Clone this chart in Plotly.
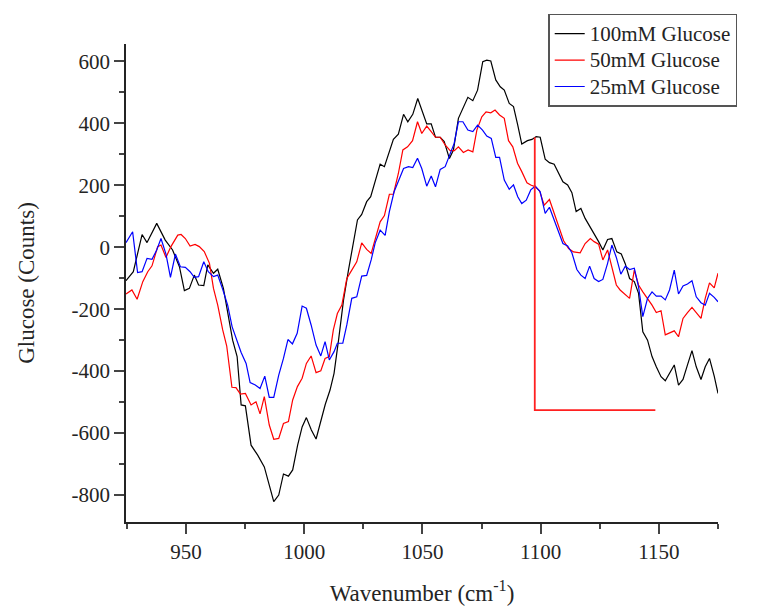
import plotly.graph_objects as go

x_100 = [924.6, 927.7, 931.4, 933.5, 937.6, 941.2, 944.3, 947.2, 949.3, 951.4, 953.5, 955.3, 957.5, 959.2,
         961.6, 963.4, 965.8, 968.3, 969.7, 971.6, 973.3, 975.1, 977.5, 980.3, 983.1, 985.2, 987.1, 989.2,
         991.2, 993.3, 995.1, 997.2, 999.1, 1000.9, 1003.0, 1005.0, 1007.0, 1008.9, 1010.9, 1012.6, 1014.5,
         1016.6, 1018.7, 1020.8, 1022.5, 1024.3, 1026.4, 1028.1, 1030.0, 1032.1, 1033.9, 1035.9, 1037.7,
         1039.8, 1042.0, 1043.8, 1045.9, 1048.0, 1050.0, 1051.8, 1053.7, 1055.5, 1057.5, 1059.2, 1061.4,
         1063.1, 1065.2, 1067.4, 1069.2, 1071.3, 1073.3, 1075.5, 1077.2, 1078.9, 1081.0, 1082.9, 1084.6,
         1086.7, 1088.5, 1090.3, 1092.0, 1094.4, 1096.3, 1098.1, 1099.8, 1101.9, 1103.7, 1105.7, 1107.6,
         1109.4, 1111.4, 1113.2, 1115.0, 1117.0, 1118.8, 1120.7, 1122.4, 1124.5, 1126.3, 1128.3, 1130.1,
         1132.2, 1134.1, 1135.8, 1137.6, 1139.6, 1141.4, 1143.2, 1145.2, 1147.1, 1148.9, 1150.9, 1152.7,
         1154.5, 1156.5, 1158.3, 1160.2, 1162.1, 1164.0, 1165.8, 1167.8, 1169.6, 1171.4, 1173.4, 1175.0]
y_100 = [-108, -79, 41, 15, 77, 23, -9, -63, -140, -133, -90, -122, -124, -57,
         -84, -71, -133, -246, -300, -353, -509, -512, -639, -671, -709, -768, -821, -800,
         -732, -739, -719, -639, -580, -550, -590, -619, -563, -507, -461, -407, -300,
         -171, -74, 23, 88, 106, 147, 163, 217, 268, 260, 303, 348,
         365, 429, 405, 429, 480, 437, 398, 398, 355, 355, 341, 286,
         314, 416, 453, 484, 473, 507, 599, 604, 601, 540, 518, 507,
         464, 454, 394, 333, 344, 348, 357, 355, 284, 273, 268, 238,
         211, 201, 176, 115, 125, 93, 68, 50, 18, -9, 25, 28,
         -15, -22, -54, -101, -111, -149, -273, -300, -353, -386, -418, -431,
         -407, -380, -445, -427, -380, -334, -386, -427, -386, -359, -416, -472]

x_50 = [924.6, 927.1, 929.3, 931.7, 933.8, 935.6, 938.0, 939.4, 941.5, 943.6, 946.5, 947.9, 949.7, 951.7,
        953.8, 955.6, 957.7, 959.9, 961.6, 963.4, 965.5, 967.2, 969.4, 971.1, 973.0, 975.1, 977.5, 979.6,
        981.3, 983.1, 985.2, 987.1, 989.2, 991.2, 993.3, 995.1, 997.1, 999.1, 1000.9, 1002.9, 1005.0,
        1007.0, 1008.8, 1010.6, 1012.3, 1014.0, 1015.9, 1018.0, 1020.1, 1022.2, 1024.3, 1026.4, 1028.3,
        1030.0, 1032.1, 1033.9, 1036.0, 1037.7, 1039.8, 1041.7, 1043.7, 1045.8, 1047.9, 1049.7, 1051.8,
        1053.7, 1055.5, 1057.5, 1059.6, 1061.7, 1063.5, 1065.2, 1067.3, 1069.3, 1071.3, 1073.0, 1075.1,
        1076.9, 1078.9, 1080.7, 1082.6, 1084.6, 1086.4, 1088.2, 1090.2, 1092.0, 1094.2, 1095.8, 1097.7,
        1099.5, 1101.5, 1103.7, 1105.7, 1107.6, 1109.7, 1111.8, 1113.9, 1116.7, 1118.8, 1121.0, 1122.6,
        1124.5, 1126.3, 1128.3, 1130.1, 1132.0, 1133.6, 1135.8, 1137.6, 1139.6, 1141.4, 1143.2, 1145.2,
        1147.1, 1148.9, 1150.9, 1152.7, 1154.5, 1156.5, 1158.3, 1160.2, 1162.1, 1164.0, 1165.8, 1167.8,
        1169.6, 1171.4, 1173.4, 1175.0]
y_50 = [-151, -138, -168, -111, -79, -60, 2, 7, -33, 2, 39, 41, 28, 4,
        9, 2, -14, -52, -133, -187, -267, -319, -452, -453, -474, -472, -509, -499,
        -538, -482, -574, -620, -617, -569, -563, -493, -450, -423, -375, -351, -405,
        -399, -359, -353, -267, -214, -187, -101, -74, -47, 14, -7, -20,
        25, 82, 102, 171, 171, 238, 314, 324, 344, 405, 367, 391,
        373, 355, 355, 330, 312, 312, 324, 306, 314, 308, 378, 421,
        437, 434, 443, 427, 416, 344, 324, 271, 244, 208, 201, 195,
        182, 136, 154, 109, 66, 21, -4, -15, -18, 12, 28, 18,
        10, -41, -9, -63, -122, -138, -154, -165, -74, -122, -144, -165,
        -187, -211, -205, -283, -276, -270, -289, -230, -211, -194, -211, -230,
        -165, -115, -131, -84]

x_25 = [924.6, 927.4, 929.5, 931.4, 933.5, 935.6, 937.6, 939.4, 941.5, 943.4, 945.5, 947.6, 949.7, 951.7,
        953.5, 955.3, 957.5, 959.4, 961.6, 963.4, 965.5, 967.6, 969.5, 971.6, 973.3, 975.4, 977.1, 979.3,
        981.3, 983.3, 985.2, 987.1, 989.2, 991.2, 993.1, 995.0, 997.0, 999.1, 1000.9, 1002.9, 1005.0,
        1007.0, 1008.8, 1010.6, 1012.6, 1014.0, 1016.3, 1018.0, 1020.1, 1022.2, 1024.3, 1026.4, 1028.3,
        1030.0, 1032.1, 1034.2, 1036.0, 1038.0, 1039.8, 1042.0, 1044.1, 1045.9, 1047.9, 1049.7, 1051.8,
        1053.7, 1055.5, 1057.5, 1059.6, 1061.4, 1063.4, 1065.2, 1067.1, 1069.2, 1071.3, 1073.3, 1075.4,
        1077.2, 1079.1, 1081.0, 1082.6, 1084.6, 1086.7, 1088.5, 1090.3, 1092.0, 1093.9, 1095.8, 1097.7,
        1099.8, 1101.9, 1103.7, 1105.7, 1107.6, 1109.4, 1111.4, 1113.2, 1115.3, 1117.0, 1118.8, 1120.7,
        1122.6, 1124.5, 1126.3, 1128.3, 1130.1, 1132.0, 1133.9, 1135.8, 1137.6, 1139.6, 1141.4, 1143.2,
        1145.2, 1147.1, 1148.9, 1150.9, 1152.7, 1154.5, 1156.5, 1158.3, 1160.2, 1162.1, 1164.0, 1165.8,
        1167.8, 1169.6, 1171.4, 1173.4, 1175.0]
y_25 = [15, 50, -82, -79, -36, -39, -9, 28, -22, -97, -22, -63, -65, -79,
        -97, -95, -47, -79, -95, -90, -136, -187, -257, -300, -340, -375, -437, -445,
        -456, -416, -485, -485, -413, -359, -298, -312, -278, -190, -197, -251, -316,
        -351, -305, -364, -337, -310, -310, -251, -165, -160, -93, -91, -41,
        14, 55, 38, 115, 179, 211, 254, 260, 257, 287, 254, 197,
        230, 195, 251, 260, 298, 335, 405, 405, 378, 373, 394, 378,
        359, 351, 290, 290, 217, 187, 201, 163, 141, 152, 185, 197,
        179, 109, 129, 90, 50, 12, 4, -18, -72, -90, -101, -61,
        -101, -111, -104, -52, 7, -33, -87, -61, -72, -68, -128, -224,
        -165, -144, -158, -158, -170, -138, -74, -151, -125, -119, -108, -160,
        -179, -187, -149, -162, -176]

marker_x = [1097.5, 1097.5, 1148.5]
marker_y = [355, -526, -526]

series_names = ["100mM Glucose", "50mM Glucose", "25mM Glucose"]
series_colors = ["#000000", "#ff0000", "#0000ff"]

y_label_alias = {"\u2212800": "-800", "\u2212600": "-600", "\u2212400": "-400", "\u2212200": "-200"}

FONT = "Liberation Serif"

fig = go.Figure()
for xs, ys, name, col in zip([x_100, x_50, x_25], [y_100, y_50, y_25], series_names, series_colors):
    fig.add_trace(go.Scatter(x=xs, y=ys, mode="lines",
                             name='<span style="font-size:21px">' + name + '</span>',
                             line=dict(color=col, width=1.2)))

fig.add_trace(go.Scatter(x=marker_x, y=marker_y, mode="lines", showlegend=False,
                         line=dict(color="#ff2020", width=1.8)))

fig.update_layout(
    template="simple_white",
    width=764, height=607,
    margin=dict(l=126, r=46, t=44, b=85, autoexpand=False),
    font=dict(family=FONT, size=21),
    xaxis=dict(range=[924.6, 1175], tickmode="linear", tick0=950, dtick=50,
               showline=True, linewidth=1.6, ticks="outside", ticklen=10, tickwidth=1.5,
               minor=dict(tick0=925, dtick=50, ticklen=5, tickwidth=1.5, ticks="outside"),
               tickfont=dict(family=FONT, size=21),
               title=dict(text="Wavenumber (cm<sup>-1</sup>)", font=dict(family=FONT, size=23),
                          standoff=22)),
    yaxis=dict(range=[-887, 656], tickmode="linear", tick0=0, dtick=200, labelalias=y_label_alias,
               showline=True, linewidth=1.6, ticks="outside", ticklen=10, tickwidth=1.5,
               minor=dict(tick0=100, dtick=200, ticklen=5, tickwidth=1.5, ticks="outside"),
               tickfont=dict(family=FONT, size=21),
               title=dict(text="Glucose (Counts)", font=dict(family=FONT, size=23), standoff=30)),
    showlegend=True,
    legend=dict(x=0.7132, y=1.0628, xanchor="left", yanchor="top",
                bordercolor="#555555", borderwidth=1.5,
                font=dict(family=FONT, size=18)),
)

fig.write_html("out.html")
